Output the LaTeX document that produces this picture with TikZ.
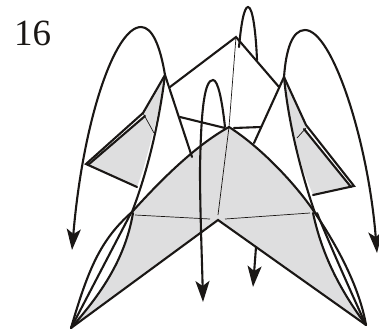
\documentclass[tikz,border=0pt]{standalone}
\usepackage{fontspec}
\setmainfont{Liberation Serif}
\usetikzlibrary{arrows.meta}
\definecolor{ink}{HTML}{1A1715}
\definecolor{paper}{HTML}{DEDEDF}
\tikzset{
  edge/.style={draw=ink,line width=2.1pt,line join=miter,line cap=round},
  fold/.style={draw=ink,line width=0.7pt},
  sheet/.style={fill=paper,draw=none},
  motion/.style={draw=ink,line width=2.1pt,-{Stealth[length=21pt,width=14pt,inset=5pt]}},
}
\begin{document}
\begin{tikzpicture}[x=1pt,y=-1pt]
\useasboundingbox (0,0) rectangle (379,330);
% grey paper
\fill[sheet] (229,127) .. controls (200,143) and (168,172) .. (132,212)
  .. controls (125,260) and (100,295) .. (71,328)
  -- (218,220) -- (366,325)
  .. controls (340,290) and (322,255) .. (313,213)
  -- (315,213) .. controls (300,190) and (265,150) .. (229,127) -- cycle;
\fill[sheet] (165,75) -- (143,113) -- (144,116) -- (88,165) -- (137,187)
  -- (143,170) .. controls (150,145) and (160,110) .. (165,75) -- cycle;
\fill[sheet] (284,77) -- (306,127) -- (304,129) -- (351,187) -- (313,195)
  -- (303,170) .. controls (295,140) and (287,110) .. (284,77) -- cycle;
% thin folds
\draw[fold] (236,37) -- (229,127) -- (218,215);
\draw[fold] (135,215) -- (210,219);
\draw[fold] (225,219) -- (310,213);
\draw[fold] (143,113) -- (154,133);
\draw[fold] (306,128) -- (297,138);
% top square and back edges
\draw[edge] (170,87) -- (236,37) -- (279,87);
\draw[edge] (284,77) -- (254,143);
\draw[edge] (165,75) -- (192,157);
\draw[edge] (180,117) -- (225,128);
\draw[edge] (234,128) -- (261,127);
% left wing
\draw[edge] (165,75) -- (143,113) -- (86,164) -- (137,187);
\draw[edge] (145,116) -- (88,165);
\draw[edge] (165,75) .. controls (160,115) and (150,165) .. (132,212);
% right wing
\draw[edge] (284,77) -- (306,125) -- (354,186) -- (313,195);
\draw[edge] (304,129) -- (351,187);
\draw[edge] (284,77) .. controls (288,120) and (300,170) .. (315,213);
% main outline
\draw[edge] (229,127) .. controls (200,143) and (168,172) .. (132,212);
\draw[edge] (229,127) .. controls (265,150) and (300,190) .. (315,213) .. controls (340,250) and (360,290) .. (366,325);
\draw[edge] (71,328) -- (218,220) -- (366,325);
% left lens
\draw[edge] (132,212) .. controls (100,240) and (88,270) .. (71,328);
\draw[edge] (131,213) -- (71,328);
\draw[edge] (133,213) .. controls (125,260) and (100,295) .. (71,328);
% right lens
\draw[edge] (313,213) .. controls (322,255) and (340,290) .. (366,325);
\draw[edge] (317,213) .. controls (330,245) and (350,290) .. (366,325);
% arrows
\draw[motion] (165,75) .. controls (160,45) and (152,27) .. (141,27) .. controls (115,27) and (83,120) .. (72,250);
\draw[motion] (284,77) .. controls (286,50) and (292,30) .. (305,30) .. controls (332,30) and (368,140) .. (377,253);
\draw[motion] (225,127) .. controls (222,100) and (218,80) .. (213,80) .. controls (205,80) and (201,105) .. (200,170) .. controls (200,210) and (202,260) .. (203,302);
\draw[edge] (239,47) .. controls (241,25) and (244,7) .. (248,7) .. controls (253,7) and (256,35) .. (257,60);
\draw[motion] (256,247) -- (253,287);
\node[anchor=base west,inner sep=0pt,font=\fontsize{37}{37}\selectfont,text=ink] (stepno) at (14,45) {16};
\end{tikzpicture}
\end{document}
